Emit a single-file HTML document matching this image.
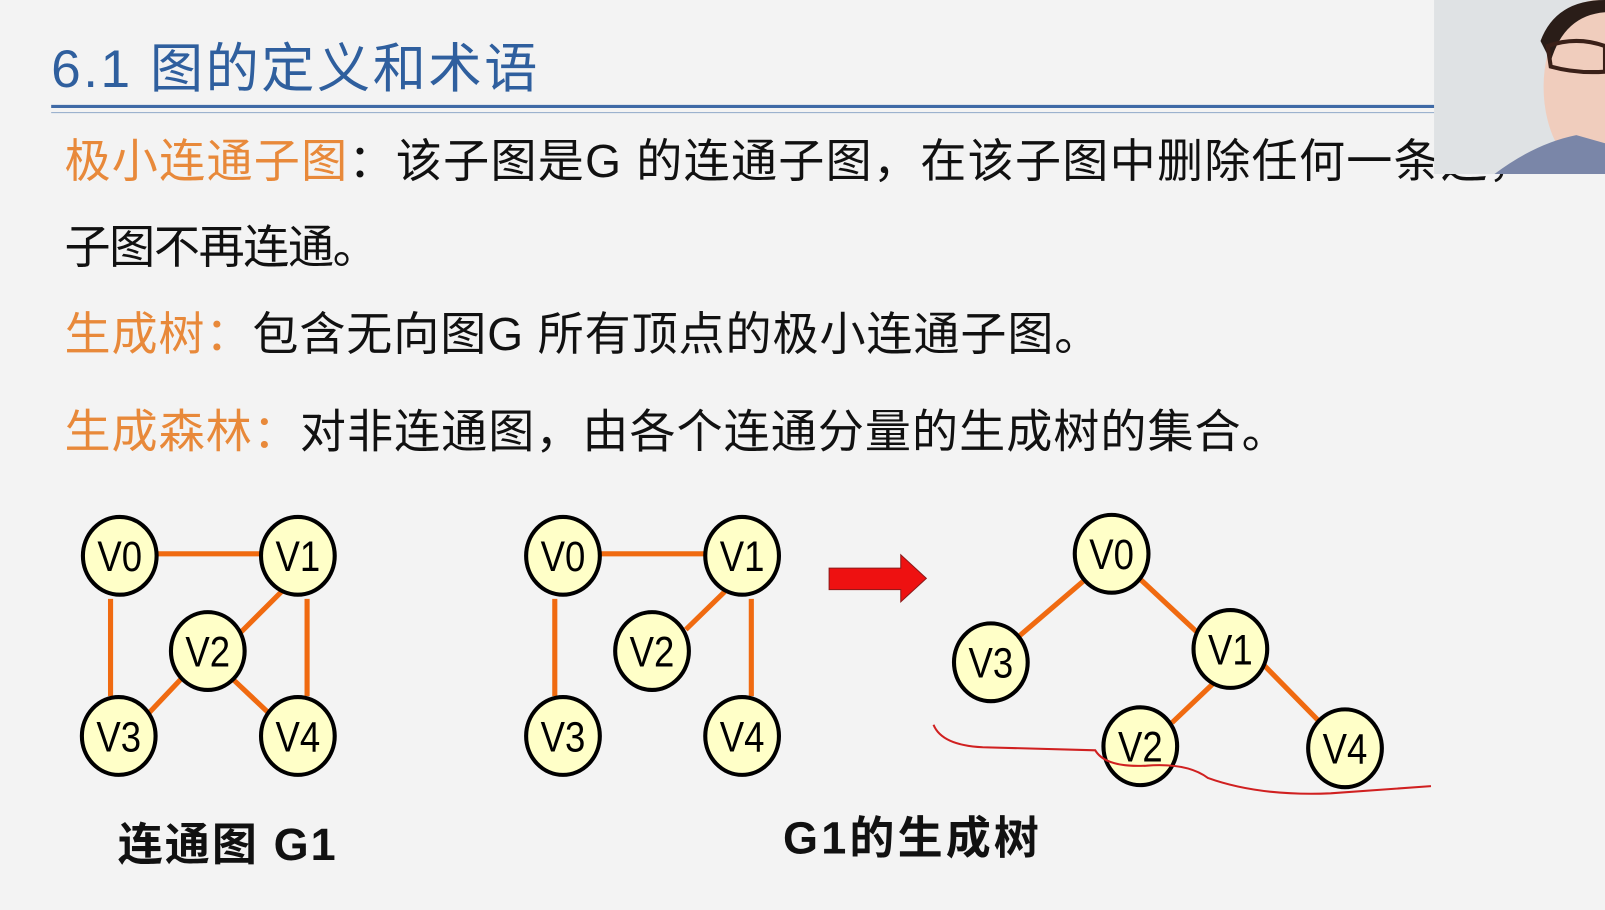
<!DOCTYPE html>
<html><head><meta charset="utf-8"><style>
html,body{margin:0;padding:0;background:#f3f3f3;}
svg{display:block;}
text{font-family:"Liberation Sans","Noto Sans CJK SC",sans-serif;}
</style></head><body>
<svg width="1605" height="910" viewBox="0 0 1568 889" preserveAspectRatio="none" xmlns="http://www.w3.org/2000/svg">
<rect width="1568" height="889" fill="#f3f3f3"/>
<text x="50" y="85" font-size="52" fill="#2f5f9e" textLength="475">6.1 图的定义和术语</text>
<line x1="50" y1="104" x2="1402" y2="104" stroke="#3f6aa6" stroke-width="3"/>
<line x1="50" y1="110" x2="1402" y2="110" stroke="#8fa8c8" stroke-width="1"/>
<g font-size="45">
<text x="63" y="173" textLength="1436"><tspan fill="#e8893a">极小连通子图</tspan><tspan fill="#111">：该子图是G 的连通子图，在该子图中删除任何一条边，</tspan></text>
<text x="63" y="257" fill="#111" textLength="307">子图不再连通。</text>
<text x="63" y="342" textLength="1012"><tspan fill="#e8893a">生成树：</tspan><tspan fill="#111">包含无向图G 所有顶点的极小连通子图。</tspan></text>
<text x="63" y="437" textLength="1195"><tspan fill="#e8893a">生成森林：</tspan><tspan fill="#111">对非连通图，由各个连通分量的生成树的集合。</tspan></text>
</g>
<!-- webcam -->
<rect x="1401" y="0" width="167" height="170" fill="#dfe2e4"/>
<ellipse cx="1560" cy="85" rx="52" ry="85" fill="#f0cdbd"/>
<path d="M1505 40 Q1520 0 1568 0 L1568 12 Q1528 15 1515 60Z" fill="#2a1d18"/>
<path d="M1512 45 Q1540 35 1568 45 L1568 70 Q1540 72 1515 65Z" fill="none" stroke="#3a2018" stroke-width="4"/>
<path d="M1460 170 Q1500 140 1540 132 L1568 140 L1568 170Z" fill="#7a86a8"/>
<g stroke="#f06a10" stroke-width="5" fill="none">
<line x1="117" y1="541" x2="291" y2="541"/><line x1="108" y1="585" x2="108" y2="680"/>
<line x1="300" y1="585" x2="300" y2="680"/><line x1="275" y1="578" x2="235" y2="618"/>
<line x1="180" y1="660" x2="145" y2="697"/><line x1="228" y1="664" x2="263" y2="697"/>
<line x1="550" y1="541" x2="725" y2="541"/><line x1="542" y1="585" x2="542" y2="680"/>
<line x1="734" y1="585" x2="734" y2="680"/><line x1="708" y1="578" x2="670" y2="615"/>
<line x1="1058" y1="568" x2="995" y2="622"/><line x1="1112" y1="564" x2="1172" y2="620"/>
<line x1="1185" y1="668" x2="1145" y2="706"/><line x1="1235" y1="650" x2="1290" y2="706"/>
</g>
<g fill="#ffffc8" stroke="#000" stroke-width="4">
<ellipse cx="117" cy="543" rx="36" ry="38"/><ellipse cx="291" cy="543" rx="36" ry="38"/>
<ellipse cx="203" cy="636" rx="36" ry="38"/><ellipse cx="116" cy="719" rx="36" ry="38"/>
<ellipse cx="291" cy="719" rx="36" ry="38"/>
<ellipse cx="550" cy="543" rx="36" ry="38"/><ellipse cx="725" cy="543" rx="36" ry="38"/>
<ellipse cx="637" cy="636" rx="36" ry="38"/><ellipse cx="550" cy="719" rx="36" ry="38"/>
<ellipse cx="725" cy="719" rx="36" ry="38"/>
<ellipse cx="1086" cy="541" rx="36" ry="38"/><ellipse cx="968" cy="647" rx="36" ry="38"/>
<ellipse cx="1202" cy="634" rx="36" ry="38"/><ellipse cx="1114" cy="729" rx="36" ry="38"/>
<ellipse cx="1314" cy="731" rx="36" ry="38"/>
</g>
<g font-size="42" text-anchor="middle" fill="#000" transform="scale(0.85 1)">
<text x="137.6" y="558">V0</text><text x="342.4" y="558">V1</text><text x="238.8" y="651">V2</text>
<text x="136.5" y="734">V3</text><text x="342.4" y="734">V4</text>
<text x="647" y="558">V0</text><text x="853" y="558">V1</text><text x="749.4" y="651">V2</text>
<text x="647" y="734">V3</text><text x="853" y="734">V4</text>
<text x="1277.6" y="556">V0</text><text x="1138.8" y="662">V3</text><text x="1414.1" y="649">V1</text>
<text x="1310.6" y="744">V2</text><text x="1545.9" y="746">V4</text>
</g>
<path d="M810 555 L880 555 L880 542 L905 565 L880 588 L880 576 L810 576Z" fill="#ee1111" stroke="#8a1a1a" stroke-width="1"/>
<path d="M912 708 Q920 728 960 730 L1070 733 Q1080 750 1120 748 Q1160 745 1180 760 Q1230 778 1300 775 L1398 768" stroke="#d02020" stroke-width="2" fill="none"/>
<g font-size="44" font-weight="bold" fill="#111">
<text x="115" y="840" textLength="213">连通图 G1</text>
<text x="765" y="834" textLength="250">G1的生成树</text>
</g>
</svg>
</body></html>
